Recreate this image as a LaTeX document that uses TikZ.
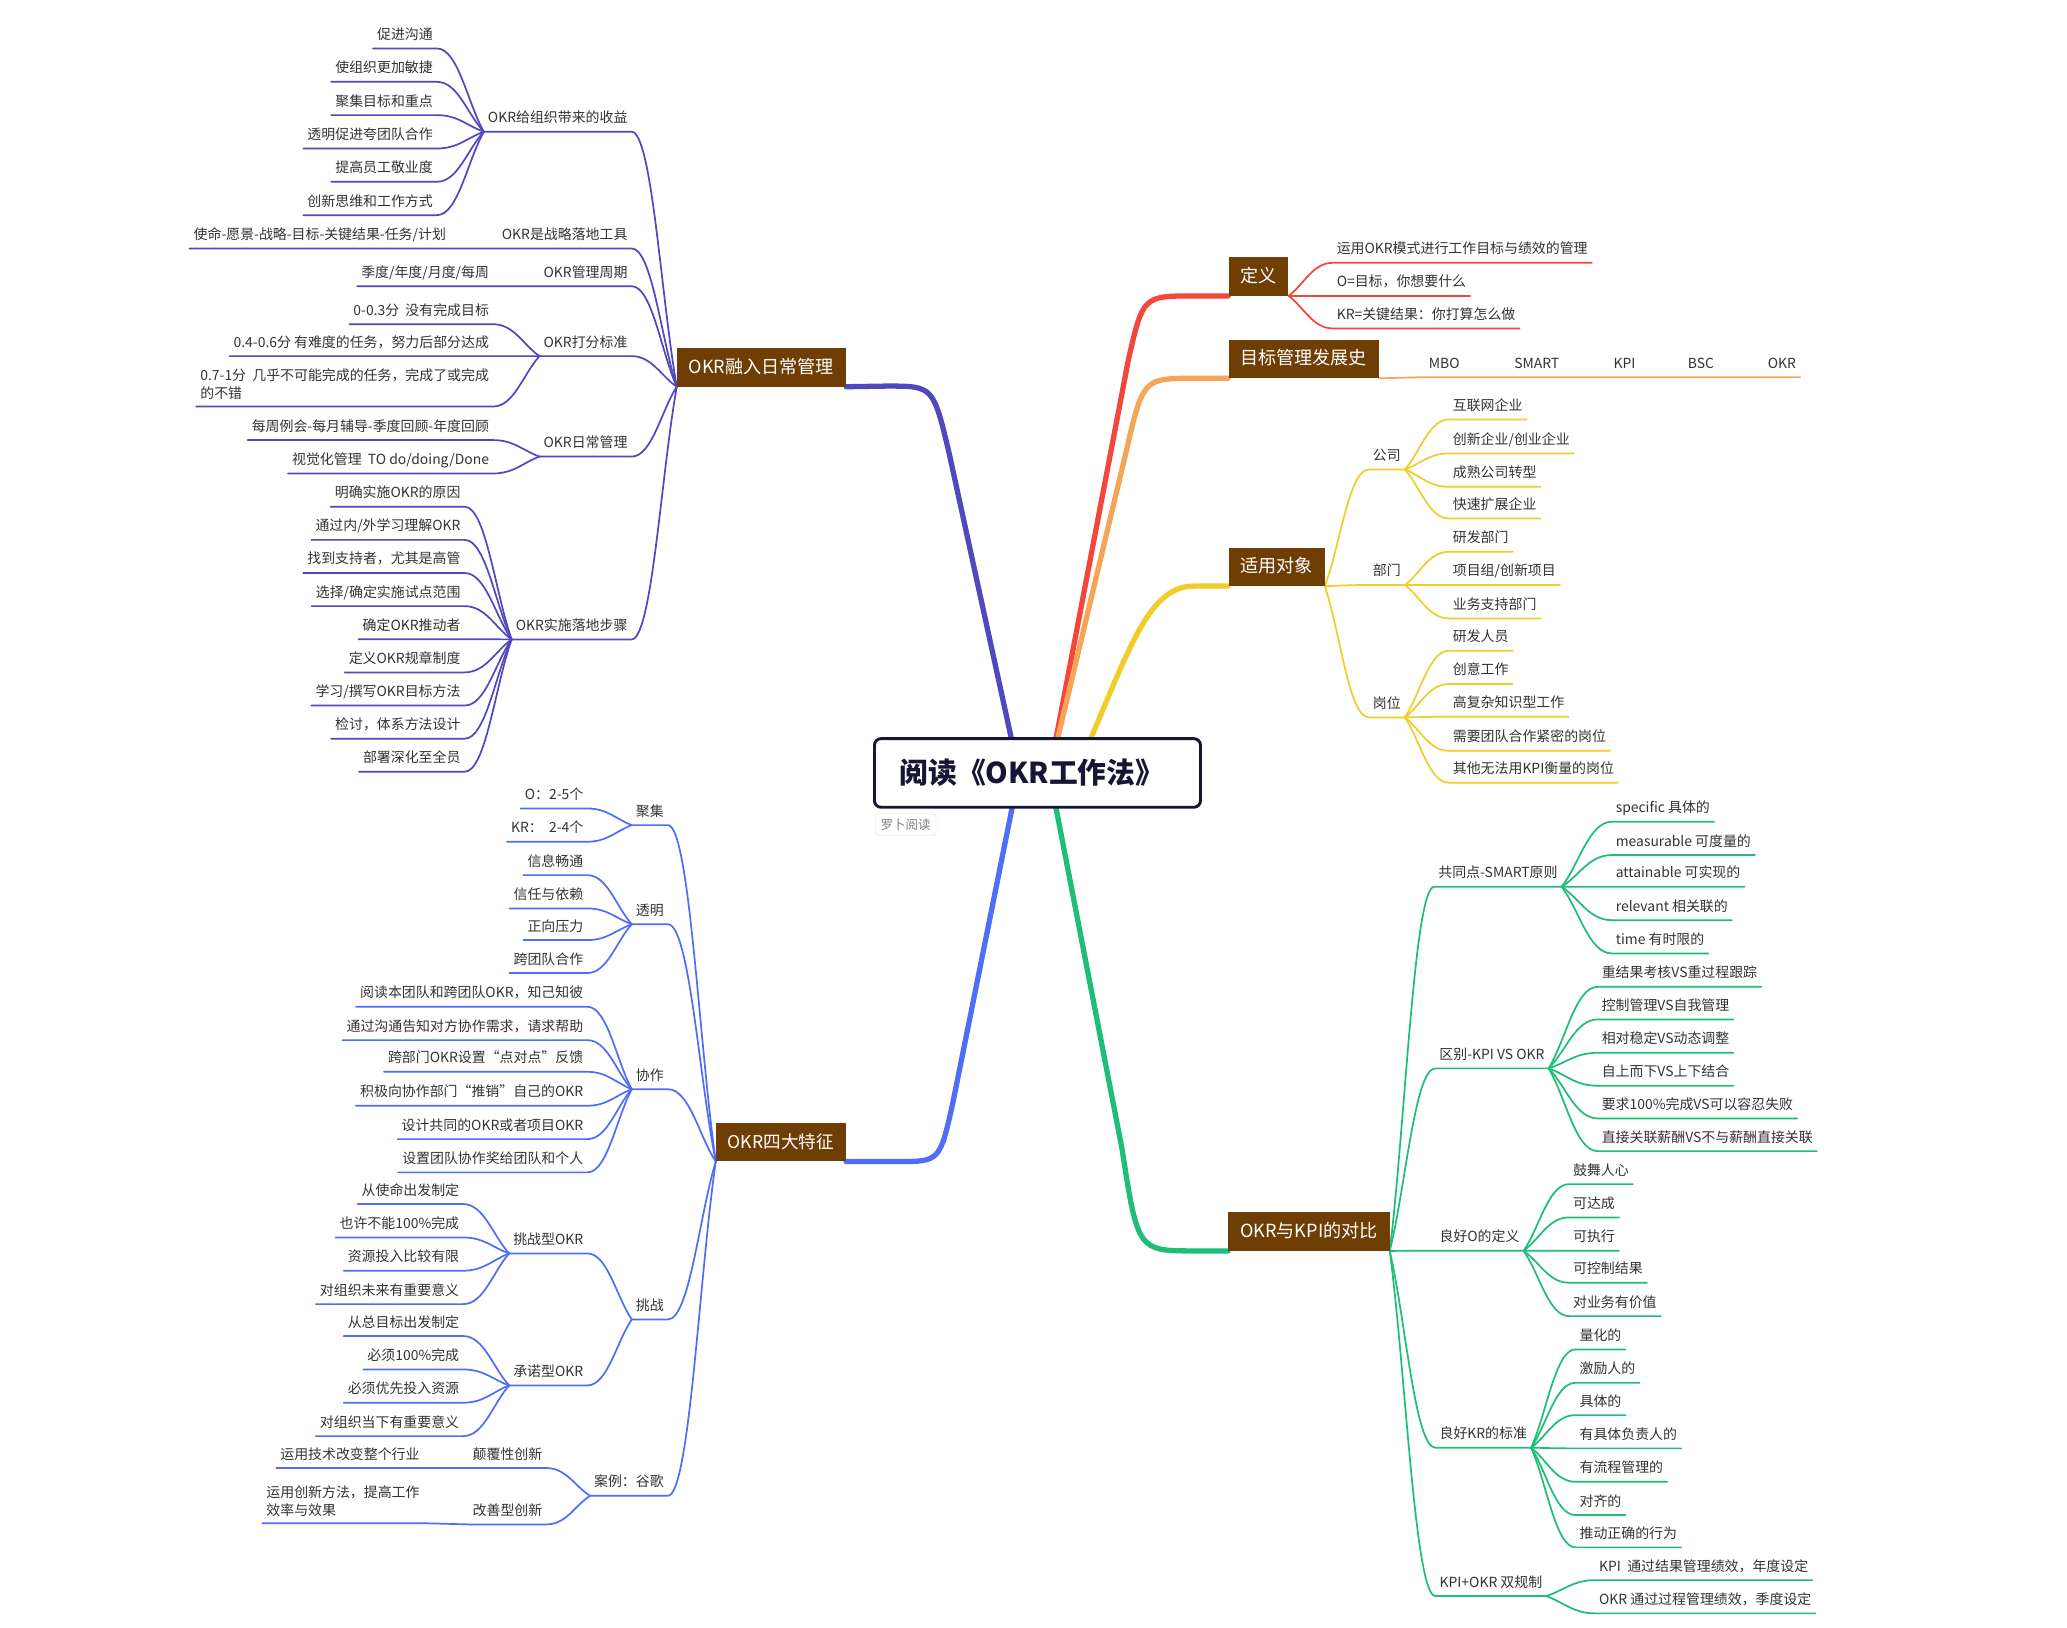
\documentclass[tikz,border=0pt]{standalone}
\usepackage{fontspec}
\setmainfont{Noto Sans CJK SC}
\usetikzlibrary{calc}
\pgfdeclarelayer{background}
\pgfsetlayers{background,main}

\definecolor{purpleline}{RGB}{80,72,190}
\definecolor{blueline}{RGB}{80,110,245}
\definecolor{redline}{RGB}{245,70,60}
\definecolor{orangeline}{RGB}{245,165,85}
\definecolor{yellowline}{RGB}{240,205,40}
\definecolor{greenline}{RGB}{30,190,120}
\definecolor{topicbrown}{RGB}{110,62,5}
\definecolor{rootnavy}{RGB}{22,22,52}

\tikzset{
  leaf/.style={font=\fontsize{15}{18}\selectfont, text=black!80, inner xsep=1.5mm, inner ysep=2.4mm, text height=12.3pt, text depth=2.7pt},
  rleaf/.style={leaf, anchor=west},
  lleaf/.style={leaf, anchor=east},
  lnote/.style={font=\fontsize{15}{19.5}\selectfont, text=black!80, inner xsep=1.5mm, inner ysep=2.4mm, align=left},
  topic/.style={fill=topicbrown, text=white, font=\fontsize{19.5}{22}\selectfont, inner xsep=4.5mm, inner ysep=0pt, minimum height=14.5mm, text height=16pt, text depth=3.5pt},
  root/.style={draw=rootnavy, line width=1.1mm, rounded corners=2.5mm, fill=white, text=rootnavy, font=\bfseries\fontsize{31}{36}\selectfont, text width=104.5mm, align=left, inner xsep=9.5mm, minimum height=26mm},
  tag/.style={draw=black!12, rounded corners=1.5mm, fill=white, text=black!50, font=\fontsize{13.5}{16}\selectfont, inner xsep=2mm, inner ysep=0pt, minimum height=8.5mm},
  twig/.style={to path={.. controls ($(\tikztostart)!0.35!(\tikztotarget)$) and ($(\tikztostart|-\tikztotarget)!0.55!(\tikztotarget)$) .. (\tikztotarget) \tikztonodes}},
  trunk/.style={line width=2mm, line cap=round},
  wire/.style={line width=0.65mm, line cap=round}
}

\begin{document}
\begin{tikzpicture}[x=0.5mm,y=-0.5mm]
\useasboundingbox (0,0) rectangle (1566,1233);
\node[root] (book) at (786,585.6) {阅读《OKR工作法》};
\node[tag, anchor=north west] (tag) at (663,616) {罗卜阅读};
\coordinate (hubL) at (772,586);
\coordinate (hubR) at (795,586);
\coordinate (hubY) at (815,586);

\node[topic, anchor=south east] (daily) at (641,293) {OKR融入日常管理};
\node[topic, anchor=south east, font=\fontsize{19}{22}\selectfont] (traits) at (641,880) {OKR四大特征};
\node[topic, anchor=south west] (define) at (930.6,224.2) {定义};
\node[topic, anchor=south west] (history) at (930.6,286.6) {目标管理发展史};
\node[topic, anchor=south west] (scope) at (930.6,444) {适用对象};
\node[topic, anchor=south west] (compare) at (930.5,947.7) {OKR与KPI的对比};

\node[lleaf] (gain) at (478.5,89.6) {OKR给组织带来的收益};
\node[lleaf] (gain1) at (331,26.5) {促进沟通};
\node[lleaf] (gain2) at (331,51.8) {使组织更加敏捷};
\node[lleaf] (gain3) at (331,77) {聚集目标和重点};
\node[lleaf] (gain4) at (331,102.3) {透明促进夸团队合作};
\node[lleaf] (gain5) at (331,127.5) {提高员工敬业度};
\node[lleaf] (gain6) at (331,152.8) {创新思维和工作方式};
\node[lleaf] (tool) at (478.5,178) {OKR是战略落地工具};
\node[lleaf] (tool1) at (341,178) {使命-愿景-战略-目标-关键结果-任务/计划};
\node[lleaf] (cycle) at (478.5,206.6) {OKR管理周期};
\node[lleaf] (cycle1) at (373.6,206.6) {季度/年度/月度/每周};
\node[lleaf] (score) at (478.5,259.6) {OKR打分标准};
\node[lleaf] (score1) at (373.6,235.4) {0-0.3分\ \ 没有完成目标};
\node[lleaf] (score2) at (373.6,259.6) {0.4-0.6分 有难度的任务，努力后部分达成};
\node[lnote, anchor=south east] (score3) at (373.6,308) {0.7-1分\ \ 几乎不可能完成的任务，完成了或完成\\的不错};
\node[lleaf] (routine) at (478.5,335.7) {OKR日常管理};
\node[lleaf] (routine1) at (373.6,323.2) {每周例会-每月辅导-季度回顾-年度回顾};
\node[lleaf] (routine2) at (373.6,348.5) {视觉化管理\ \ TO do/doing/Done};
\node[lleaf] (steps) at (478.5,474.2) {OKR实施落地步骤};
\node[lleaf] (steps1) at (352,373.7) {明确实施OKR的原因};
\node[lleaf] (steps2) at (352,398.8) {通过内/外学习理解OKR};
\node[lleaf] (steps3) at (352,423.9) {找到支持者，尤其是高管};
\node[lleaf] (steps4) at (352,449) {选择/确定实施试点范围};
\node[lleaf] (steps5) at (352,474.1) {确定OKR推动者};
\node[lleaf] (steps6) at (352,499.2) {定义OKR规章制度};
\node[lleaf] (steps7) at (352,524.3) {学习/撰写OKR目标方法};
\node[lleaf] (steps8) at (352,549.4) {检讨，体系方法设计};
\node[lleaf] (steps9) at (352,574.5) {部署深化至全员};

\node[lleaf] (focus) at (506,614.9) {聚集};
\node[lleaf] (focus1) at (445,602.3) {O：2-5个};
\node[lleaf] (focus2) at (445,627.5) {KR：\ \ 2-4个};
\node[lleaf] (open) at (506,690) {透明};
\node[lleaf] (open1) at (445,652.8) {信息畅通};
\node[lleaf] (open2) at (445,678) {信任与依赖};
\node[lleaf] (open3) at (445,702) {正向压力};
\node[lleaf] (open4) at (445,727) {跨团队合作};
\node[lleaf] (team) at (506,815) {协作};
\node[lleaf] (team1) at (445,752.5) {阅读本团队和跨团队OKR，知己知彼};
\node[lleaf] (team2) at (445,777.8) {通过沟通告知对方协作需求，请求帮助};
\node[lleaf] (team3) at (445,801.8) {跨部门OKR设置“点对点”反馈};
\node[lleaf] (team4) at (445,827.5) {积极向协作部门“推销”自己的OKR};
\node[lleaf] (team5) at (445,852.8) {设计共同的OKR或者项目OKR};
\node[lleaf] (team6) at (445,878) {设置团队协作奖给团队和个人};
\node[lleaf] (stretch) at (506,989.4) {挑战};
\node[lleaf] (bold) at (445,939.4) {挑战型OKR};
\node[lleaf] (bold1) at (351,902) {从使命出发制定};
\node[lleaf] (bold2) at (351,927.3) {也许不能100\%完成};
\node[lleaf] (bold3) at (351,952.5) {资源投入比较有限};
\node[lleaf] (bold4) at (351,977.8) {对组织未来有重要意义};
\node[lleaf] (firm) at (445,1039.4) {承诺型OKR};
\node[lleaf] (firm1) at (351,1002) {从总目标出发制定};
\node[lleaf] (firm2) at (351,1027.3) {必须100\%完成};
\node[lleaf] (firm3) at (351,1052.5) {必须优先投入资源};
\node[lleaf] (firm4) at (351,1077.8) {对组织当下有重要意义};
\node[lleaf] (case) at (506,1123) {案例：谷歌};
\node[lleaf] (disrupt) at (414,1102) {颠覆性创新};
\node[lleaf] (disrupt1) at (321,1102) {运用技术改变整个行业};
\node[lleaf] (improve) at (414,1144.7) {改善型创新};
\node[lnote, anchor=south east] (improve1) at (321,1154) {运用创新方法，提高工作\\效率与效果};

\node[rleaf] (def1) at (1009.6,188.9) {运用OKR模式进行工作目标与绩效的管理};
\node[rleaf] (def2) at (1009.6,214) {O=目标，你想要什么};
\node[rleaf] (def3) at (1009.6,238.6) {KR=关键结果：你打算怎么做};

\node[leaf] (mbo) at (1094.2,275.5) {MBO};
\node[leaf] (smart) at (1164.3,275.5) {SMART};
\node[leaf] (kpi) at (1230.7,275.5) {KPI};
\node[leaf] (bsc) at (1288.6,275.5) {BSC};
\node[leaf] (okr) at (1350,275.5) {OKR};

\node[rleaf] (company) at (1037,345.5) {公司};
\node[rleaf] (company1) at (1097.6,307.6) {互联网企业};
\node[rleaf] (company2) at (1097.6,333.3) {创新企业/创业企业};
\node[rleaf] (company3) at (1097.6,358.6) {成熟公司转型};
\node[rleaf] (company4) at (1097.6,382.6) {快速扩展企业};
\node[rleaf] (dept) at (1037,433) {部门};
\node[rleaf] (dept1) at (1097.6,407.8) {研发部门};
\node[rleaf] (dept2) at (1097.6,433) {项目组/创新项目};
\node[rleaf] (dept3) at (1097.6,458.3) {业务支持部门};
\node[rleaf] (post) at (1037,533.3) {岗位};
\node[rleaf] (post1) at (1097.6,482.8) {研发人员};
\node[rleaf] (post2) at (1097.6,508) {创意工作};
\node[rleaf] (post3) at (1097.6,532.8) {高复杂知识型工作};
\node[rleaf] (post4) at (1097.6,558.6) {需要团队合作紧密的岗位};
\node[rleaf] (post5) at (1097.6,582.8) {其他无法用KPI衡量的岗位};

\node[rleaf] (common) at (1086.6,661.6) {共同点-SMART原则};
\node[rleaf] (common1) at (1221,612.4) {specific 具体的};
\node[rleaf] (common2) at (1221,637.6) {measurable 可度量的};
\node[rleaf] (common3) at (1221,661.6) {attainable 可实现的};
\node[rleaf] (common4) at (1221,686.9) {relevant 相关联的};
\node[rleaf] (common5) at (1221,712.1) {time 有时限的};
\node[rleaf] (diff) at (1087.4,799.2) {区别-KPI VS OKR};
\node[rleaf] (diff1) at (1210.4,737.4) {重结果考核VS重过程跟踪};
\node[rleaf] (diff2) at (1210.4,762.1) {控制管理VS自我管理};
\node[rleaf] (diff3) at (1210.4,787.4) {相对稳定VS动态调整};
\node[rleaf] (diff4) at (1210.4,812.4) {自上而下VS上下结合};
\node[rleaf] (diff5) at (1210.4,837.1) {要求100\%完成VS可以容忍失败};
\node[rleaf] (diff6) at (1210.4,861.9) {直接关联薪酬VS不与薪酬直接关联};
\node[rleaf] (goodo) at (1087.5,937.4) {良好O的定义};
\node[rleaf] (goodo1) at (1188.7,886.9) {鼓舞人心};
\node[rleaf] (goodo2) at (1188.7,912.1) {可达成};
\node[rleaf] (goodo3) at (1188.7,937.4) {可执行};
\node[rleaf] (goodo4) at (1188.7,961.6) {可控制结果};
\node[rleaf] (goodo5) at (1188.7,986.9) {对业务有价值};
\node[rleaf] (goodkr) at (1087.5,1086.6) {良好KR的标准};
\node[rleaf] (goodkr1) at (1193.6,1012.1) {量化的};
\node[rleaf] (goodkr2) at (1193.6,1037.4) {激励人的};
\node[rleaf] (goodkr3) at (1193.6,1061.9) {具体的};
\node[rleaf] (goodkr4) at (1193.6,1087.1) {有具体负责人的};
\node[rleaf] (goodkr5) at (1193.6,1112.4) {有流程管理的};
\node[rleaf] (goodkr6) at (1193.6,1137.6) {对齐的};
\node[rleaf] (goodkr7) at (1193.6,1162.1) {推动正确的行为};
\node[rleaf] (dual) at (1087.5,1199) {KPI+OKR 双规制};
\node[rleaf] (dual1) at (1208.4,1186.9) {KPI\ \ 通过结果管理绩效，年度设定};
\node[rleaf] (dual2) at (1208.4,1212.1) {OKR 通过过程管理绩效，季度设定};

\begin{pgfonlayer}{background}
\fill[white] (0,0) rectangle (1566,1233);
\draw[trunk, purpleline] (hubL) -- (719,343) .. controls (707,292.5) .. (672,292.5) -- (daily.south east);
\draw[trunk, blueline] (hubL) -- (722,835) .. controls (712,880) .. (680,880) -- (traits.south east);
\draw[trunk, redline] (hubR) -- (855,272) .. controls (866,224.2) .. (905,224.2) -- (define.south west);
\draw[trunk, orangeline] (hubR) -- (853,343) .. controls (866,286.6) .. (905,286.6) -- (history.south west);
\draw[trunk, yellowline] (hubY) .. controls (855,495) and (868,444) .. (905,444) -- (scope.south west);
\draw[trunk, greenline] (hubR) -- (850,870) .. controls (862,947.7) .. (905,947.7) -- (compare.south west);

\draw[wire, purpleline] (daily.south west) to[twig] (gain.south east) -- (gain.south west);
\draw[wire, purpleline] (daily.south west) to[twig] (tool.south east) -- (tool.south west) -- (tool1.south east) -- (tool1.south west);
\draw[wire, purpleline] (daily.south west) to[twig] (cycle.south east) -- (cycle.south west) -- (cycle1.south east) -- (cycle1.south west);
\draw[wire, purpleline] (daily.south west) to[twig] (score.south east) -- (score.south west);
\draw[wire, purpleline] (daily.south west) to[twig] (routine.south east) -- (routine.south west);
\draw[wire, purpleline] (daily.south west) to[twig] (steps.south east) -- (steps.south west);
\draw[wire, purpleline] (gain.south west) to[twig] (gain1.south east) -- (gain1.south west);
\draw[wire, purpleline] (gain.south west) to[twig] (gain2.south east) -- (gain2.south west);
\draw[wire, purpleline] (gain.south west) to[twig] (gain3.south east) -- (gain3.south west);
\draw[wire, purpleline] (gain.south west) to[twig] (gain4.south east) -- (gain4.south west);
\draw[wire, purpleline] (gain.south west) to[twig] (gain5.south east) -- (gain5.south west);
\draw[wire, purpleline] (gain.south west) to[twig] (gain6.south east) -- (gain6.south west);
\draw[wire, purpleline] (score.south west) to[twig] (score1.south east) -- (score1.south west);
\draw[wire, purpleline] (score.south west) to[twig] (score2.south east) -- (score2.south west);
\draw[wire, purpleline] (score.south west) to[twig] (score3.south east) -- (score3.south west);
\draw[wire, purpleline] (routine.south west) to[twig] (routine1.south east) -- (routine1.south west);
\draw[wire, purpleline] (routine.south west) to[twig] (routine2.south east) -- (routine2.south west);
\draw[wire, purpleline] (steps.south west) to[twig] (steps1.south east) -- (steps1.south west);
\draw[wire, purpleline] (steps.south west) to[twig] (steps2.south east) -- (steps2.south west);
\draw[wire, purpleline] (steps.south west) to[twig] (steps3.south east) -- (steps3.south west);
\draw[wire, purpleline] (steps.south west) to[twig] (steps4.south east) -- (steps4.south west);
\draw[wire, purpleline] (steps.south west) to[twig] (steps5.south east) -- (steps5.south west);
\draw[wire, purpleline] (steps.south west) to[twig] (steps6.south east) -- (steps6.south west);
\draw[wire, purpleline] (steps.south west) to[twig] (steps7.south east) -- (steps7.south west);
\draw[wire, purpleline] (steps.south west) to[twig] (steps8.south east) -- (steps8.south west);
\draw[wire, purpleline] (steps.south west) to[twig] (steps9.south east) -- (steps9.south west);

\draw[wire, blueline] (traits.south west) to[twig] (focus.south east) -- (focus.south west);
\draw[wire, blueline] (traits.south west) to[twig] (open.south east) -- (open.south west);
\draw[wire, blueline] (traits.south west) to[twig] (team.south east) -- (team.south west);
\draw[wire, blueline] (traits.south west) to[twig] (stretch.south east) -- (stretch.south west);
\draw[wire, blueline] (traits.south west) to[twig] (case.south east) -- (case.south west);
\draw[wire, blueline] (focus.south west) to[twig] (focus1.south east) -- (focus1.south west);
\draw[wire, blueline] (focus.south west) to[twig] (focus2.south east) -- (focus2.south west);
\draw[wire, blueline] (open.south west) to[twig] (open1.south east) -- (open1.south west);
\draw[wire, blueline] (open.south west) to[twig] (open2.south east) -- (open2.south west);
\draw[wire, blueline] (open.south west) to[twig] (open3.south east) -- (open3.south west);
\draw[wire, blueline] (open.south west) to[twig] (open4.south east) -- (open4.south west);
\draw[wire, blueline] (team.south west) to[twig] (team1.south east) -- (team1.south west);
\draw[wire, blueline] (team.south west) to[twig] (team2.south east) -- (team2.south west);
\draw[wire, blueline] (team.south west) to[twig] (team3.south east) -- (team3.south west);
\draw[wire, blueline] (team.south west) to[twig] (team4.south east) -- (team4.south west);
\draw[wire, blueline] (team.south west) to[twig] (team5.south east) -- (team5.south west);
\draw[wire, blueline] (team.south west) to[twig] (team6.south east) -- (team6.south west);
\draw[wire, blueline] (stretch.south west) to[twig] (bold.south east) -- (bold.south west);
\draw[wire, blueline] (stretch.south west) to[twig] (firm.south east) -- (firm.south west);
\draw[wire, blueline] (bold.south west) to[twig] (bold1.south east) -- (bold1.south west);
\draw[wire, blueline] (bold.south west) to[twig] (bold2.south east) -- (bold2.south west);
\draw[wire, blueline] (bold.south west) to[twig] (bold3.south east) -- (bold3.south west);
\draw[wire, blueline] (bold.south west) to[twig] (bold4.south east) -- (bold4.south west);
\draw[wire, blueline] (firm.south west) to[twig] (firm1.south east) -- (firm1.south west);
\draw[wire, blueline] (firm.south west) to[twig] (firm2.south east) -- (firm2.south west);
\draw[wire, blueline] (firm.south west) to[twig] (firm3.south east) -- (firm3.south west);
\draw[wire, blueline] (firm.south west) to[twig] (firm4.south east) -- (firm4.south west);
\draw[wire, blueline] (case.south west) to[twig] (disrupt.south east) -- (disrupt.south west) -- (disrupt1.south east) -- (disrupt1.south west);
\draw[wire, blueline] (case.south west) to[twig] (improve.south east) -- (improve.south west) -- (improve1.south east) -- (improve1.south west);

\draw[wire, redline] (define.south east) to[twig] (def1.south west) -- (def1.south east);
\draw[wire, redline] (define.south east) to[twig] (def2.south west) -- (def2.south east);
\draw[wire, redline] (define.south east) to[twig] (def3.south west) -- (def3.south east);

\draw[wire, orangeline] (history.south east) -- (mbo.south west) -- (mbo.south east) -- (smart.south west) -- (smart.south east) -- (kpi.south west) -- (kpi.south east) -- (bsc.south west) -- (bsc.south east) -- (okr.south west) -- (okr.south east);

\draw[wire, yellowline] (scope.south east) to[twig] (company.south west) -- (company.south east);
\draw[wire, yellowline] (scope.south east) to[twig] (dept.south west) -- (dept.south east);
\draw[wire, yellowline] (scope.south east) to[twig] (post.south west) -- (post.south east);
\draw[wire, yellowline] (company.south east) to[twig] (company1.south west) -- (company1.south east);
\draw[wire, yellowline] (company.south east) to[twig] (company2.south west) -- (company2.south east);
\draw[wire, yellowline] (company.south east) to[twig] (company3.south west) -- (company3.south east);
\draw[wire, yellowline] (company.south east) to[twig] (company4.south west) -- (company4.south east);
\draw[wire, yellowline] (dept.south east) to[twig] (dept1.south west) -- (dept1.south east);
\draw[wire, yellowline] (dept.south east) to[twig] (dept2.south west) -- (dept2.south east);
\draw[wire, yellowline] (dept.south east) to[twig] (dept3.south west) -- (dept3.south east);
\draw[wire, yellowline] (post.south east) to[twig] (post1.south west) -- (post1.south east);
\draw[wire, yellowline] (post.south east) to[twig] (post2.south west) -- (post2.south east);
\draw[wire, yellowline] (post.south east) to[twig] (post3.south west) -- (post3.south east);
\draw[wire, yellowline] (post.south east) to[twig] (post4.south west) -- (post4.south east);
\draw[wire, yellowline] (post.south east) to[twig] (post5.south west) -- (post5.south east);

\draw[wire, greenline] (compare.south east) to[twig] (common.south west) -- (common.south east);
\draw[wire, greenline] (compare.south east) to[twig] (diff.south west) -- (diff.south east);
\draw[wire, greenline] (compare.south east) to[twig] (goodo.south west) -- (goodo.south east);
\draw[wire, greenline] (compare.south east) to[twig] (goodkr.south west) -- (goodkr.south east);
\draw[wire, greenline] (compare.south east) to[twig] (dual.south west) -- (dual.south east);
\draw[wire, greenline] (common.south east) to[twig] (common1.south west) -- (common1.south east);
\draw[wire, greenline] (common.south east) to[twig] (common2.south west) -- (common2.south east);
\draw[wire, greenline] (common.south east) to[twig] (common3.south west) -- (common3.south east);
\draw[wire, greenline] (common.south east) to[twig] (common4.south west) -- (common4.south east);
\draw[wire, greenline] (common.south east) to[twig] (common5.south west) -- (common5.south east);
\draw[wire, greenline] (diff.south east) to[twig] (diff1.south west) -- (diff1.south east);
\draw[wire, greenline] (diff.south east) to[twig] (diff2.south west) -- (diff2.south east);
\draw[wire, greenline] (diff.south east) to[twig] (diff3.south west) -- (diff3.south east);
\draw[wire, greenline] (diff.south east) to[twig] (diff4.south west) -- (diff4.south east);
\draw[wire, greenline] (diff.south east) to[twig] (diff5.south west) -- (diff5.south east);
\draw[wire, greenline] (diff.south east) to[twig] (diff6.south west) -- (diff6.south east);
\draw[wire, greenline] (goodo.south east) to[twig] (goodo1.south west) -- (goodo1.south east);
\draw[wire, greenline] (goodo.south east) to[twig] (goodo2.south west) -- (goodo2.south east);
\draw[wire, greenline] (goodo.south east) to[twig] (goodo3.south west) -- (goodo3.south east);
\draw[wire, greenline] (goodo.south east) to[twig] (goodo4.south west) -- (goodo4.south east);
\draw[wire, greenline] (goodo.south east) to[twig] (goodo5.south west) -- (goodo5.south east);
\draw[wire, greenline] (goodkr.south east) to[twig] (goodkr1.south west) -- (goodkr1.south east);
\draw[wire, greenline] (goodkr.south east) to[twig] (goodkr2.south west) -- (goodkr2.south east);
\draw[wire, greenline] (goodkr.south east) to[twig] (goodkr3.south west) -- (goodkr3.south east);
\draw[wire, greenline] (goodkr.south east) to[twig] (goodkr4.south west) -- (goodkr4.south east);
\draw[wire, greenline] (goodkr.south east) to[twig] (goodkr5.south west) -- (goodkr5.south east);
\draw[wire, greenline] (goodkr.south east) to[twig] (goodkr6.south west) -- (goodkr6.south east);
\draw[wire, greenline] (goodkr.south east) to[twig] (goodkr7.south west) -- (goodkr7.south east);
\draw[wire, greenline] (dual.south east) to[twig] (dual1.south west) -- (dual1.south east);
\draw[wire, greenline] (dual.south east) to[twig] (dual2.south west) -- (dual2.south east);
\end{pgfonlayer}
\end{tikzpicture}
\end{document}
